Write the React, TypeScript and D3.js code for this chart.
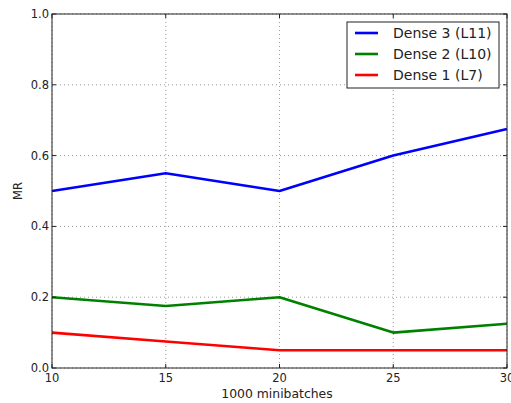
import React from "react";
import * as d3 from "d3";

const xValues = [10, 15, 20, 25, 30];
const dense3 = [0.5, 0.55, 0.5, 0.6, 0.675];
const dense2 = [0.2, 0.175, 0.2, 0.1, 0.125];
const dense1 = [0.1, 0.075, 0.05, 0.05, 0.05];
const seriesNames = ["Dense 3 (L11)", "Dense 2 (L10)", "Dense 1 (L7)"];
const seriesColors = ["#0000ff", "#008000", "#ff0000"];
const xTicks = [10, 15, 20, 25, 30];
const yTicks = [0, 0.2, 0.4, 0.6, 0.8, 1.0];

export default function App() {
  const W = 511, H = 403;
  const left = 52, right = 507, top = 14, bottom = 368;
  const x = d3.scaleLinear().domain([10, 30]).range([left, right]);
  const y = d3.scaleLinear().domain([0, 1]).range([bottom, top]);
  const line = d3.line<number>().x((_, i) => x(xValues[i])).y((d) => y(d));
  const allSeries = [dense3, dense2, dense1];
  const font = "'DejaVu Sans', sans-serif";

  return (
    <svg width={W} height={H} style={{ position: "absolute", left: 0, top: 0, background: "#fff" }}>
      <rect x={0} y={0} width={W} height={H} fill="#fff" />
      {xTicks.map((t) => (
        <line key={"gx" + t} x1={x(t)} x2={x(t)} y1={top} y2={bottom} stroke="#999" strokeWidth={1} strokeDasharray="1,3" />
      ))}
      {yTicks.map((t) => (
        <line key={"gy" + t} x1={left} x2={right} y1={y(t)} y2={y(t)} stroke="#999" strokeWidth={1} strokeDasharray="1,3" />
      ))}
      {allSeries.map((s, i) => (
        <path key={"s" + i} d={line(s) || ""} fill="none" stroke={seriesColors[i]} strokeWidth={2.6} strokeLinejoin="round" />
      ))}
      <rect x={left} y={top} width={right - left} height={bottom - top} fill="none" stroke="#222" strokeWidth={1} />
      {xTicks.map((t) => (
        <g key={"tx" + t}>
          <line x1={x(t)} x2={x(t)} y1={bottom} y2={bottom - 4} stroke="#222" />
          <line x1={x(t)} x2={x(t)} y1={top} y2={top + 4} stroke="#222" />
          <text x={x(t)} y={bottom + 14} textAnchor="middle" fontSize={11.5} fontFamily={font} fill="#222">{t}</text>
        </g>
      ))}
      {yTicks.map((t) => (
        <g key={"ty" + t}>
          <line x1={left} x2={left + 4} y1={y(t)} y2={y(t)} stroke="#222" />
          <line x1={right} x2={right - 4} y1={y(t)} y2={y(t)} stroke="#222" />
          <text x={left - 3} y={y(t) + 4} textAnchor="end" fontSize={11.5} fontFamily={font} fill="#222">{t.toFixed(1)}</text>
        </g>
      ))}
      <text x={277} y={398} textAnchor="middle" fontSize={12.4} fontFamily={font} fill="#222">1000 minibatches</text>
      <text transform={`translate(22,${(top + bottom) / 2}) rotate(-90)`} textAnchor="middle" fontSize={11.5} fontFamily={font} fill="#222">MR</text>
      <rect x={347} y={22} width={152} height={66} fill="#fff" stroke="#222" strokeWidth={1} />
      {seriesNames.map((n, i) => (
        <g key={"l" + i}>
          <line x1={355} x2={378} y1={33 + i * 21} y2={33 + i * 21} stroke={seriesColors[i]} strokeWidth={2.6} />
          <text x={393} y={33 + i * 21 + 5} fontSize={14} fontFamily={font} fill="#222">{n}</text>
        </g>
      ))}
    </svg>
  );
}
